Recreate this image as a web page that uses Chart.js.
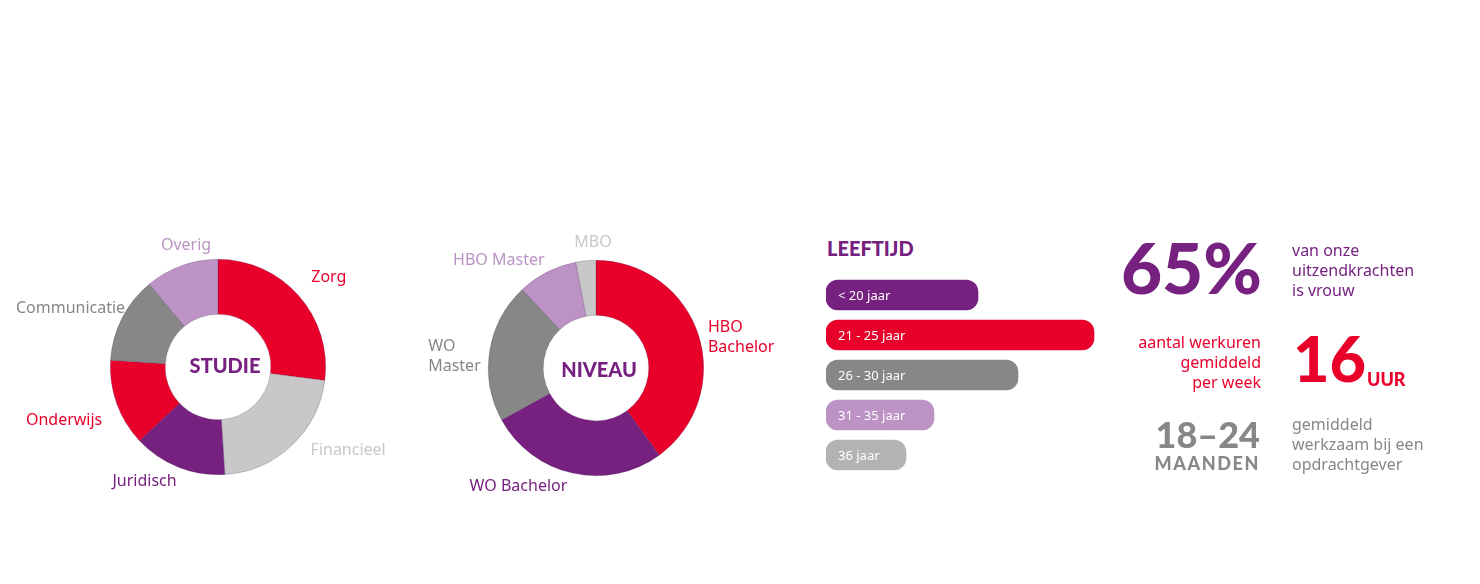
<!DOCTYPE html>
<html>
<head>
<meta charset="utf-8">
<script src="https://cdn.jsdelivr.net/npm/chart.js@4.4.1/dist/chart.umd.min.js"></script>
<style>
    body { margin: 0; width: 1480px; height: 584px; background: #fff; position: relative; overflow: hidden; font-family: "Noto Sans", sans-serif; }
    canvas, .txt { position: absolute; }
    .big { font-family: Lato, sans-serif; font-weight: 900; line-height: 1; }
    .body { font-size: 16px; line-height: 20px; }
</style>
</head>
<body>
<canvas id="studieChart" width="436" height="294" style="left:0;top:220px"></canvas>
<canvas id="niveauChart" width="436" height="294" style="left:378px;top:221px"></canvas>
<div class="txt big" style="left:827px;top:238px;font-size:20px;color:#76217f">LEEFTIJD</div>
<canvas id="leeftijdChart" width="340" height="220" style="left:816px;top:265px"></canvas>

<div class="txt big" style="right:218px;top:231px;font-size:71px;color:#76217f">65%</div>
<div class="txt body" style="left:1292px;top:240px;color:#76217f">van onze<br>uitzendkrachten<br>is vrouw</div>

<div class="txt body" style="right:219px;top:332px;color:#e8002b;text-align:right">aantal werkuren<br>gemiddeld<br>per week</div>
<div class="txt big" style="left:1293px;top:326px;font-size:63px;color:#e8002b">16</div>
<div class="txt big" style="left:1367px;top:370px;font-size:18px;color:#e8002b">UUR</div>

<div class="txt big" style="right:220px;top:416px;font-size:36px;color:#878787">18–24</div>
<div class="txt big" style="right:220px;top:454px;font-size:18px;color:#878787;letter-spacing:1.6px">MAANDEN</div>
<div class="txt body" style="left:1292px;top:414px;color:#878787">gemiddeld<br>werkzaam bij een<br>opdrachtgever</div>

<script>
// chart data
const studieLabels = ['Zorg', 'Financieel', 'Juridisch', 'Onderwijs', 'Communicatie', 'Overig'];
const studieValues = [27, 22, 14, 13, 13, 11];

const niveauLabels = [['HBO', 'Bachelor'], 'WO Bachelor', ['WO', 'Master'], 'HBO Master', 'MBO'];
const niveauValues = [40, 27, 21, 9, 3];

const leeftijdLabels = ['< 20 jaar', '21 - 25 jaar', '26 - 30 jaar', '31 - 35 jaar', '36 jaar'];
const leeftijdValues = [19, 33.5, 24, 13.5, 10];

// colours
const RED = '#e8002b', PURPLE = '#76217f', GREY = '#878787', LIGHT = '#c8c8c8', LILAC = '#bc93c4';

const studieColors = [RED, LIGHT, PURPLE, RED, GREY, LILAC];
const niveauColors = [RED, PURPLE, GREY, LILAC, LIGHT];
const leeftijdColors = [PURPLE, RED, GREY, LILAC, '#b3b3b3'];

// small per-label shifts so the outside labels sit like the original
const studieNudges = [[5, -12], [12, -2], [2, 5], [-5, 14], [12, -5], [33, -11]];
const niveauNudges = [[0, 6], [-3, 4], [1, 7], [2, -3], [8, -8]];

// draws the labels around a doughnut and the word in its hole
const outerLabels = {
    id: 'outerLabels',
    afterDatasetsDraw(chart, args, opts) {
        if (!opts.colors) return;
        const ctx = chart.ctx;
        const meta = chart.getDatasetMeta(0);
        ctx.save();
        ctx.font = '16px "Noto Sans"';
        ctx.textBaseline = 'middle';
        ctx.textAlign = 'left';
        let cx = 0, cy = 0;
        meta.data.forEach((arc, i) => {
            const p = arc.getProps(['x', 'y', 'startAngle', 'endAngle', 'outerRadius'], true);
            cx = p.x; cy = p.y;
            const mid = (p.startAngle + p.endAngle) / 2;
            const r = p.outerRadius + 10;
            const cos = Math.cos(mid), sin = Math.sin(mid);
            const nudge = opts.nudges[i] || [0, 0];
            const label = chart.data.labels[i];
            const lines = Array.isArray(label) ? label : [label];
            const w = Math.max(...lines.map(l => ctx.measureText(l).width));
            let x = p.x + cos * r + nudge[0];
            const y = p.y + sin * r + nudge[1];
            if (Math.abs(cos) < 0.15) x -= w / 2;
            else if (cos < 0) x -= w;
            ctx.fillStyle = opts.colors[i];
            lines.forEach((l, k) => {
                ctx.fillText(l, x, y + (k - (lines.length - 1) / 2) * 20);
            });
        });
        ctx.font = '900 20px Lato';
        ctx.textAlign = 'center';
        ctx.fillStyle = PURPLE;
        ctx.fillText(opts.center, cx + opts.centerShift[0], cy + opts.centerShift[1]);
        ctx.restore();
    }
};

// white text inside the age bars
const barLabels = {
    id: 'barLabels',
    afterDatasetsDraw(chart, args, opts) {
        if (!opts.show) return;
        const ctx = chart.ctx;
        ctx.save();
        ctx.font = '13px "Noto Sans"';
        ctx.fillStyle = '#fff';
        ctx.textBaseline = 'middle';
        chart.getDatasetMeta(0).data.forEach((bar, i) => {
            ctx.fillText(chart.data.labels[i], bar.base + 12, bar.y + 1);
        });
        ctx.restore();
    }
};

Chart.register(outerLabels, barLabels);

function makeDoughnut(id, labels, values, colors, nudges, center, centerShift) {
    const ctx = document.getElementById(id).getContext('2d');
    return new Chart(ctx, {
        type: 'doughnut',
        data: {
            labels: labels,
            datasets: [{
                data: values,
                backgroundColor: colors,
                borderColor: 'rgba(70, 40, 90, 0.4)',
                borderWidth: 0.6
            }]
        },
        options: {
            responsive: false,
            animation: false,
            cutout: '49%',
            layout: { padding: { top: 39, bottom: 39 } },
            plugins: {
                legend: { display: false },
                tooltip: { enabled: false },
                outerLabels: { colors: colors, nudges: nudges, center: center, centerShift: centerShift }
            }
        }
    });
}

makeDoughnut('studieChart', studieLabels, studieValues, studieColors, studieNudges, 'STUDIE', [7, 0]);
makeDoughnut('niveauChart', niveauLabels, niveauValues, niveauColors, niveauNudges, 'NIVEAU', [3, 3]);

new Chart(document.getElementById('leeftijdChart').getContext('2d'), {
    type: 'bar',
    data: {
        labels: leeftijdLabels,
        datasets: [{
            data: leeftijdValues,
            backgroundColor: leeftijdColors,
            borderRadius: 12,
            borderSkipped: false,
            barThickness: 30
        }]
    },
    options: {
        responsive: false,
        animation: false,
        indexAxis: 'y',
        layout: { padding: { left: 10, right: 10, top: 10, bottom: 10 } },
        scales: {
            x: { display: false, min: 0, max: 40 },
            y: { display: false }
        },
        plugins: {
            legend: { display: false },
            tooltip: { enabled: false },
            barLabels: { show: true }
        }
    }
});
</script>
</body>
</html>
